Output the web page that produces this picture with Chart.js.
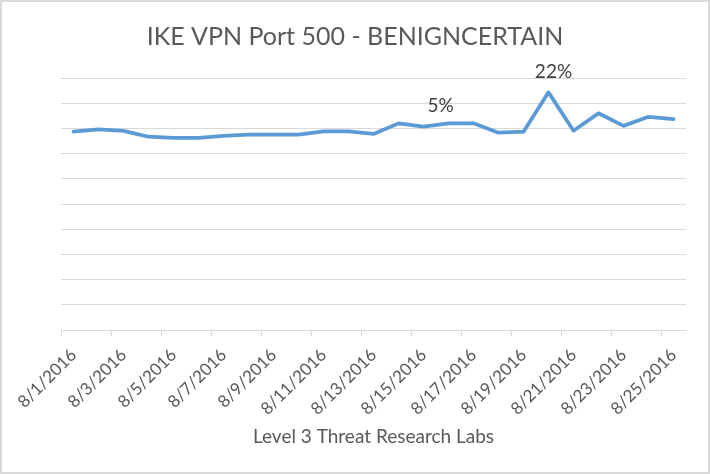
<!DOCTYPE html>
<html>
<head>
<meta charset="utf-8">
<script src="https://cdn.jsdelivr.net/npm/chart.js@4/dist/chart.umd.min.js"></script>
<style>
  html, body { margin: 0; padding: 0; background: #fff; }
  canvas { display: block; }
</style>
</head>
<body>
<canvas id="c" width="710" height="474"></canvas>
<script>
// ---- data ----
const titleText = 'IKE VPN Port 500 - BENIGNCERTAIN';
const axisTitle = 'Level 3 Threat Research Labs';
const categories = [
  '8/1/2016','8/2/2016','8/3/2016','8/4/2016','8/5/2016','8/6/2016','8/7/2016',
  '8/8/2016','8/9/2016','8/10/2016','8/11/2016','8/12/2016','8/13/2016','8/14/2016',
  '8/15/2016','8/16/2016','8/17/2016','8/18/2016','8/19/2016','8/20/2016','8/21/2016',
  '8/22/2016','8/23/2016','8/24/2016','8/25/2016'
];
// values in gridline units (the y axis carries no labels)
const seriesValues = [
  7.87, 7.96, 7.90, 7.67, 7.62, 7.62, 7.70, 7.75, 7.75, 7.75, 7.88, 7.88, 7.78,
  8.20, 8.07, 8.20, 8.20, 7.83, 7.87, 9.43, 7.91, 8.60, 8.10, 8.46, 8.37
];
const yMin = 0, yMax = 10, yStep = 1;
const annotatedIndex = [15, 19];
const annotatedText = ['5%', '22%'];

const FONT = 'Lato, "Open Sans", sans-serif';
const GREY = '#d9d9d9';
const TXT = '#595959';

const frame = {
  id: 'frame',
  beforeDraw(chart) {
    const ctx = chart.ctx;
    ctx.save();
    ctx.fillStyle = '#fff';
    ctx.fillRect(0, 0, chart.width, chart.height);
    ctx.strokeStyle = GREY;
    ctx.lineWidth = 2;
    ctx.strokeRect(1, 1, chart.width - 2, chart.height - 2);
    ctx.restore();
  }
};

const pointLabels = {
  id: 'pointLabels',
  afterDatasetsDraw(chart, args, opts) {
    const meta = chart.getDatasetMeta(0);
    const ctx = chart.ctx;
    ctx.save();
    ctx.font = opts.font;
    ctx.fillStyle = opts.color;
    ctx.textAlign = 'center';
    ctx.textBaseline = 'middle';
    annotatedIndex.forEach((idx, k) => {
      const p = meta.data[idx];
      const off = opts.offsets[k];
      ctx.fillText(annotatedText[k], p.x + off[0], p.y + off[1]);
    });
    ctx.restore();
  }
};

new Chart(document.getElementById('c'), {
  type: 'line',
  data: {
    labels: categories,
    datasets: [{
      data: seriesValues,
      borderColor: '#5b9bd5',
      borderWidth: 3.75,
      borderJoinStyle: 'round',
      borderCapStyle: 'round',
      pointRadius: 0,
      tension: 0,
      fill: false
    }]
  },
  options: {
    responsive: false,
    animation: false,
    layout: { padding: { left: 24, right: 24, top: 0, bottom: 0 } },
    plugins: {
      legend: { display: false },
      tooltip: { enabled: false },
      title: {
        display: true,
        text: titleText,
        color: TXT,
        font: { family: FONT, size: 25, weight: 'normal', lineHeight: 1.2 },
        padding: { top: 22, bottom: 26 }
      },
      pointLabels: {
        font: '19px ' + FONT,
        color: '#404040',
        offsets: [[-8, -17], [5, -20]]
      }
    },
    scales: {
      x: {
        offset: true,
        grid: {
          offset: true,
          drawOnChartArea: false,
          drawTicks: true,
          tickLength: 6,
          color: (c) => (c.index !== undefined && c.index % 2 === 0) ? GREY : 'rgba(0,0,0,0)'
        },
        border: { display: true, color: GREY, width: 1 },
        ticks: {
          autoSkip: false,
          minRotation: 45,
          maxRotation: 45,
          padding: 9,
          color: TXT,
          font: { family: FONT, size: 17 },
          callback: function (v, i) { return i % 2 === 0 ? categories[i] : ''; }
        },
        title: {
          display: true,
          text: axisTitle,
          color: TXT,
          font: { family: FONT, size: 19 },
          padding: { top: 0, bottom: 26 }
        },
        afterFit: (axis) => { axis.height = 144; }
      },
      y: {
        min: yMin,
        max: yMax,
        grid: { color: GREY, drawTicks: false },
        border: { display: false },
        ticks: { display: false, stepSize: yStep },
        afterFit: (axis) => { axis.width = 37; }
      }
    }
  },
  plugins: [frame, pointLabels]
});
</script>
</body>
</html>
